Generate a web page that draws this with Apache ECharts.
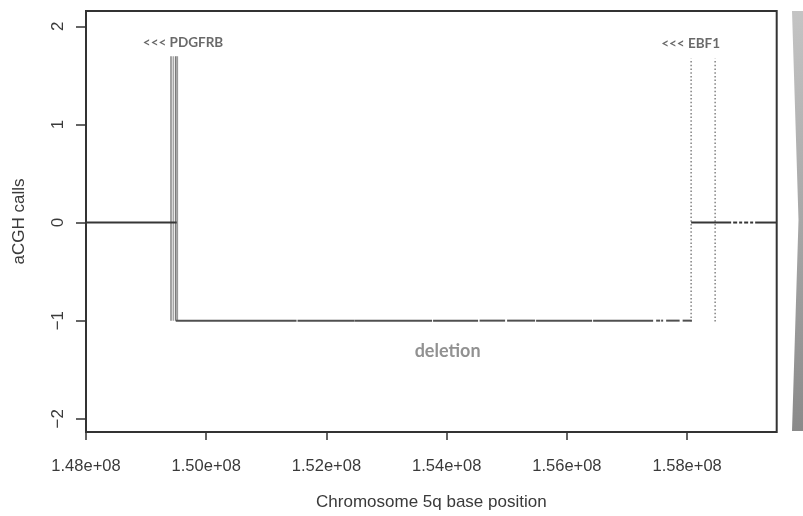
<!DOCTYPE html>
<html>
<head>
<meta charset="utf-8">
<script src="https://cdn.jsdelivr.net/npm/echarts@6/dist/echarts.min.js"></script>
<style>
html,body{margin:0;padding:0;background:#fff;}
#chart{width:803px;height:516px;}
</style>
</head>
<body>
<div id="chart"></div>
<script>
// ---- data ----
const xTicks = [1.48e8, 1.50e8, 1.52e8, 1.54e8, 1.56e8, 1.58e8];
const yTicks = [-2, -1, 0, 1, 2];
const xRange = [1.48e8, 1.5949e8];
const yRange = [-2.135, 2.156];

// copy-number call segments: start, end (bp) and call value
const neutralStart = [1.48e8, 1.580666e8, 1.587655e8, 1.588653e8, 1.589485e8, 1.590483e8, 1.591315e8];
const neutralEnd   = [1.49509e8, 1.587322e8, 1.58832e8, 1.589152e8, 1.59015e8, 1.590982e8, 1.5949e8];
const neutralCall  = [0, 0, 0, 0, 0, 0, 0];

const deletionStart = [1.49493e8, 1.515191e8, 1.524676e8, 1.537737e8, 1.545474e8, 1.55005e8, 1.554876e8, 1.56436e8, 1.574842e8, 1.575674e8, 1.576506e8, 1.579252e8];
const deletionEnd   = [1.515025e8, 1.524659e8, 1.537571e8, 1.545225e8, 1.549717e8, 1.554709e8, 1.564193e8, 1.574343e8, 1.575508e8, 1.576007e8, 1.578752e8, 1.580782e8];
const deletionCall  = [-1, -1, -1, -1, -1, -1, -1, -1, -1, -1, -1, -1];

// breakpoint markers near PDGFRB (solid) and EBF1 (dotted)
const pdgfrbPos = [1.49414e8, 1.49453e8, 1.49493e8, 1.49519e8];
const pdgfrbLow = [-1, -1, -1, -1];
const pdgfrbHigh = [1.695, 1.695, 1.695, 1.695];
const ebf1Pos = [1.580666e8, 1.58466e8];
const ebf1Low = [-1.01, -1.01];
const ebf1High = [1.67, 1.67];

// annotations
const geneLabels = ['<<< PDGFRB', '<<< EBF1'];
const geneLabelX = [1.49614e8, 1.58058e8];
const geneLabelY = [1.838, 1.82];
const regionLabel = 'deletion';
const regionLabelX = 1.54015e8;
const regionLabelY = -1.31;

// ---- helpers ----
function zip3(a, b, c) { return a.map((v, i) => [v, b[i], c[i]]); }
function fmtSci(v) {
  const e = Math.floor(Math.log10(v) + 1e-9);
  const m = v / Math.pow(10, e);
  return m.toFixed(2) + 'e+' + String(e).padStart(2, '0');
}
function hSeg(color, width) {
  return function (params, api) {
    const p1 = api.coord([api.value(0), api.value(2)]);
    const p2 = api.coord([api.value(1), api.value(2)]);
    return { type: 'line', shape: { x1: p1[0], y1: p1[1], x2: p2[0], y2: p2[1] },
      style: { stroke: color, lineWidth: width } };
  };
}
const pdgColors = ['#8c8c8c', '#a6a6a6', '#7a7a7a', '#9a9a9a'];
function vSeg(colors, width, dash) {
  return function (params, api) {
    const p1 = api.coord([api.value(0), api.value(1)]);
    const p2 = api.coord([api.value(0), api.value(2)]);
    return { type: 'line', shape: { x1: p1[0], y1: p1[1], x2: p2[0], y2: p2[1] },
      style: { stroke: colors[params.dataIndex % colors.length], lineWidth: width, lineDash: dash } };
  };
}

const FONT = '"Liberation Sans", Arial, sans-serif';
const chart = echarts.init(document.getElementById('chart'), null, { renderer: 'canvas' });
chart.setOption({
  animation: false,
  backgroundColor: '#fff',
  grid: { left: 86, right: 26.3, top: 11, bottom: 81, show: true, borderColor: '#333', borderWidth: 2, backgroundColor: 'transparent' },
  xAxis: {
    type: 'value', min: xRange[0], max: xRange[1],
    axisLine: { show: false, onZero: false },
    splitLine: { show: false },
    axisTick: { show: true, inside: false, length: 8, lineStyle: { color: '#333', width: 1.5 }, customValues: xTicks },
    axisLabel: { customValues: xTicks, formatter: fmtSci, fontFamily: FONT, fontSize: 16.5, color: '#3a3a3a', margin: 26 },
    name: 'Chromosome 5q base position', nameLocation: 'middle', nameGap: 62,
    nameTextStyle: { fontFamily: FONT, fontSize: 17, color: '#3a3a3a' }
  },
  yAxis: {
    type: 'value', min: yRange[0], max: yRange[1],
    axisLine: { show: false, onZero: false },
    splitLine: { show: false },
    axisTick: { show: true, inside: false, length: 10, lineStyle: { color: '#333', width: 1.5 }, customValues: yTicks },
    axisLabel: { customValues: yTicks, rotate: 90, fontFamily: FONT, fontSize: 17, color: '#3a3a3a', margin: 19,
      formatter: v => (v < 0 ? '\u2212' + Math.abs(v) : String(v)) },
    name: 'aCGH calls', nameLocation: 'middle', nameGap: 58, nameRotate: 90,
    nameTextStyle: { fontFamily: FONT, fontSize: 17, color: '#3a3a3a' }
  },
  series: [
    { type: 'custom', name: 'neutral', renderItem: hSeg('#363636', 2),
      encode: { x: [0, 1], y: 2 }, data: zip3(neutralStart, neutralEnd, neutralCall), z: 3 },
    { type: 'custom', name: 'deletion', renderItem: hSeg('#505050', 2),
      encode: { x: [0, 1], y: 2 }, data: zip3(deletionStart, deletionEnd, deletionCall), z: 3 },
    { type: 'custom', name: 'PDGFRB', renderItem: vSeg(pdgColors, 1.6, null),
      encode: { x: 0, y: [1, 2] }, data: zip3(pdgfrbPos, pdgfrbLow, pdgfrbHigh), z: 2 },
    { type: 'custom', name: 'EBF1', renderItem: vSeg(['#8a8a8a'], 1.6, [1.5, 2.2]),
      encode: { x: 0, y: [1, 2] }, data: zip3(ebf1Pos, ebf1Low, ebf1High), z: 2 },
    { type: 'scatter', symbolSize: 0, silent: true, z: 5,
      data: geneLabels.map((n, i) => ({ name: n, value: [geneLabelX[i], geneLabelY[i]] })),
      label: { show: true, position: 'inside', formatter: '{b}', fontFamily: 'Lato, "Open Sans", sans-serif',
        fontWeight: 'bold', fontSize: 13.5, color: '#444' } },
    { type: 'scatter', symbolSize: 0, silent: true, z: 5,
      data: [{ name: regionLabel, value: [regionLabelX, regionLabelY] }],
      label: { show: true, position: 'inside', formatter: '{b}', fontFamily: 'Lato, "Open Sans", sans-serif',
        fontWeight: 'bold', fontSize: 18, color: '#767676' } }
  ],
  graphic: [{
    type: 'polygon', silent: true,
    shape: { points: [[792, 11], [803, 11], [803, 431], [792, 431], [798.5, 220]] },
    style: { fill: new echarts.graphic.LinearGradient(0, 0, 0, 1, [
      { offset: 0, color: '#c4c4c4' }, { offset: 1, color: '#8a8a8a' }]) }
  }]
});
</script>
</body>
</html>
